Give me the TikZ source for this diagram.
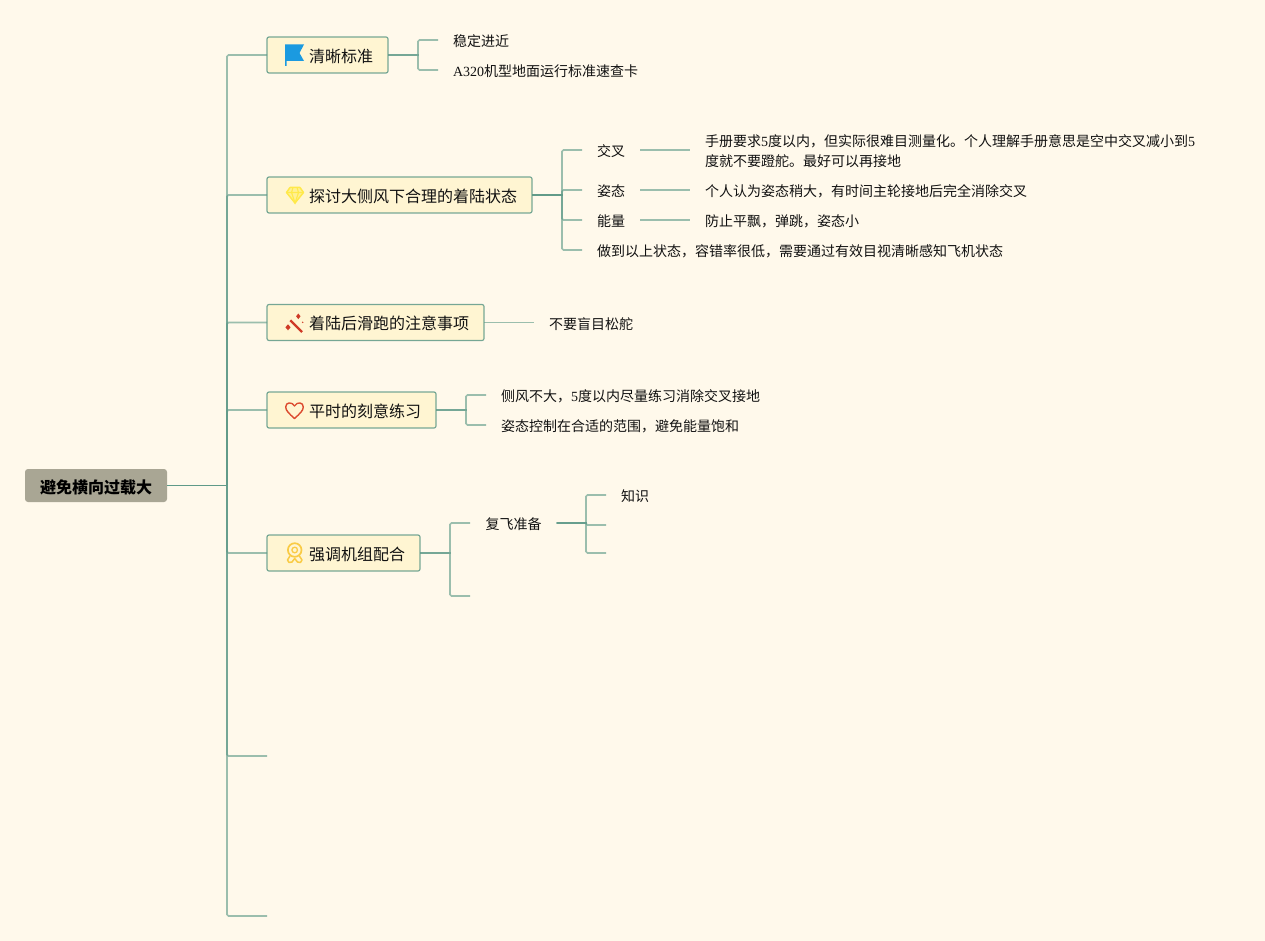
\documentclass[tikz,border=0pt]{standalone}
\usepackage{fontspec}
\setmainfont{Liberation Serif}
\newfontfamily\cjkf{Noto Sans CJK SC}
\newcommand{\zh}[1]{{\cjkf #1}}
\definecolor{bgc}{HTML}{FFF9EB}
\definecolor{linec}{HTML}{5F9A88}
\definecolor{topicf}{HTML}{FFF5D2}
\definecolor{rootf}{HTML}{A9A694}
\definecolor{inkc}{HTML}{111111}
\definecolor{flagc}{HTML}{1B9AE0}
\definecolor{gemc}{HTML}{FFE94A}
\definecolor{wandc}{HTML}{CF3A26}
\definecolor{heartc}{HTML}{DC4B30}
\definecolor{medalc}{HTML}{F9CB45}
\tikzset{
  x=1pt,y=-1pt,
  conn/.style={draw=linec,draw opacity=.62,line width=1.6pt},
  thinconn/.style={draw=linec,line width=1.2pt},
  rootbox/.style={draw=none,fill=rootf,rounded corners=3pt,anchor=west,outer sep=0pt,inner xsep=15pt,inner ysep=0pt,minimum height=33pt,text height=15pt,text depth=0pt,font=\fontsize{16}{20}\selectfont\bfseries,text=black},
  topic/.style={draw=linec,draw opacity=.85,line width=1.2pt,fill=topicf,rounded corners=2pt,anchor=west,outer sep=0pt,inner xsep=15pt,inner ysep=0pt,minimum height=36pt,text height=14.5pt,text depth=0pt,font=\fontsize{16}{20}\selectfont,text=inkc},
  leaf/.style={anchor=west,outer sep=0pt,inner xsep=15pt,inner ysep=0pt,text height=13pt,text depth=0pt,font=\fontsize{14}{20}\selectfont,text=inkc,align=left},
}
\newcommand{\ti}{\hspace*{27pt}}
\begin{document}
\begin{tikzpicture}
\fill[bgc] (0,0) rectangle (1265,941);
\useasboundingbox (0,0) rectangle (1265,941);
% junctions and free ends
\coordinate (jr) at (227,485.5);
\coordinate (e6) at (267,756);
\coordinate (e7) at (267,916);
\coordinate (j1) at (418,55);
\coordinate (j2) at (562,195);
\coordinate (j4) at (466,410);
\coordinate (j5) at (450,553);
\coordinate (j51) at (586,523);
\coordinate (e52) at (470,596);
\coordinate (e511) at (606,525);
\coordinate (e512) at (606,553);
% nodes
\node[rootbox] (root) at (25,485.5) {\zh{避免横向过载大}};
\node[topic] (t1) at (267,55) {\ti\zh{清晰标准}};
\node[topic] (t2) at (267,195) {\ti\zh{探讨大侧风下合理的着陆状态}};
\node[topic] (t3) at (267,322.5) {\ti\zh{着陆后滑跑的注意事项}};
\node[topic] (t4) at (267,410) {\ti\zh{平时的刻意练习}};
\node[topic] (t5) at (267,553) {\ti\zh{强调机组配合}};
\node[leaf] (a1) at (438,40) {\zh{稳定进近}};
\node[leaf] (a2) at (438,70) {A320\zh{机型地面运行标准速查卡}};
\node[leaf] (b1) at (582,150) {\zh{交叉}};
\node[leaf] (b2) at (582,190) {\zh{姿态}};
\node[leaf] (b3) at (582,220) {\zh{能量}};
\node[leaf] (b4) at (582,250) {\zh{做到以上状态，容错率很低，需要通过有效目视清晰感知飞机状态}};
\node[leaf,text height=33pt] (b1a) at (690,150) {\zh{手册要求}5\zh{度以内，但实际很难目测量化。个人理解手册意思是空中交叉减小到}5\\[0pt]\zh{度就不要蹬舵。最好可以再接地}};
\node[leaf] (b2a) at (690,190) {\zh{个人认为姿态稍大，有时间主轮接地后完全消除交叉}};
\node[leaf] (b3a) at (690,220) {\zh{防止平飘，弹跳，姿态小}};
\node[leaf] (c1) at (534,322.5) {\zh{不要盲目松舵}};
\node[leaf] (d1) at (486,395) {\zh{侧风不大，}5\zh{度以内尽量练习消除交叉接地}};
\node[leaf] (d2) at (486,425) {\zh{姿态控制在合适的范围，避免能量饱和}};
\node[leaf] (f1) at (470,523) {\hspace*{.7pt}\zh{复飞准备}};
\node[leaf] (f11) at (606,495) {\zh{知识}};
% connectors
\draw[thinconn] (root.east) -- (jr);
\foreach \c in {t1,t2,t3,t4,t5,e6,e7}{
  \draw[conn,rounded corners=1.5pt] (jr) |- (\c);
}
\foreach \c in {a1,a2}{ \draw[conn] (t1.east) -- (j1) [rounded corners=1.5pt] |- (\c.west); }
\foreach \c in {b1,b2,b3,b4}{ \draw[conn] (t2.east) -- (j2) [rounded corners=1.5pt] |- (\c.west); }
\draw[conn] (b1.east) -- (b1a.west);
\draw[conn] (b2.east) -- (b2a.west);
\draw[conn] (b3.east) -- (b3a.west);
\draw[conn] (t3.east) -- (c1.west);
\foreach \c in {d1,d2}{ \draw[conn] (t4.east) -- (j4) [rounded corners=1.5pt] |- (\c.west); }
\draw[conn] (t5.east) -- (j5) [rounded corners=1.5pt] |- (f1.west);
\draw[conn] (t5.east) -- (j5) [rounded corners=1.5pt] |- (e52);
\draw[conn] (f1.east) -- (j51) [rounded corners=1.5pt] |- (f11.west);
\draw[conn] (f1.east) -- (j51) [rounded corners=1.5pt] |- (e511);
\draw[conn] (f1.east) -- (j51) [rounded corners=1.5pt] |- (e512);
% icons
\begin{scope}[shift={(t1.west)}]
  \fill[flagc] (18,-10.5) -- (37,-10.5) -- (32.5,-2) -- (37,6) -- (19.5,6) -- (19.5,11) -- (18,11) -- cycle;
\end{scope}
\begin{scope}[shift={(t2.west)}]
  \draw[draw=gemc,line width=1.5pt,line join=round,fill=gemc!45!topicf] (23,-7.5) -- (33,-7.5) -- (36.5,-2.5) -- (28,8) -- (19.5,-2.5) -- cycle;
  \draw[draw=gemc,line width=1.1pt] (19.5,-2.5) -- (36.5,-2.5) (24.5,-2.5) -- (28,8) -- (31.5,-2.5) (24.5,-2.5) -- (26,-7.5) (31.5,-2.5) -- (30,-7.5);
\end{scope}
\begin{scope}[shift={(t3.west)}]
  \draw[wandc,line width=2.4pt] (23.3,-2.2) -- (35,9.5);
  \fill[wandc] (31.3,-9) -- (33.5,-6.2) -- (31.3,-3.4) -- (29.1,-6.2) -- cycle;
  \fill[wandc] (21,1.8) -- (23.6,4.8) -- (21,7.8) -- (18.4,4.8) -- cycle;
  \fill[wandc] (35.7,-.2) circle (.8);
\end{scope}
\begin{scope}[shift={(t4.west)}]
  \draw[heartc,line width=1.4pt,line join=round] (27.5,8.5) .. controls (22,3.5) and (18.7,.5) .. (18.7,-3) .. controls (18.7,-8) and (25,-8.5) .. (27.5,-4) .. controls (30,-8.5) and (36.3,-8) .. (36.3,-3) .. controls (36.3,.5) and (33,3.5) .. (27.5,8.5) -- cycle;
\end{scope}
\begin{scope}[shift={(t5.west)}]
  \draw[medalc,line width=1.7pt] (27.7,-3) circle (6.8);
  \draw[medalc,line width=1.3pt] (27.7,-3) circle (2.8);
  \draw[medalc,line width=1.5pt,line join=round] (23,3) -- (20.5,7) -- (22,9.5) -- (25,9) -- (27.7,5.5) -- (30.5,9) -- (33.5,9.5) -- (35,7) -- (32.4,3);
\end{scope}
\end{tikzpicture}
\end{document}
